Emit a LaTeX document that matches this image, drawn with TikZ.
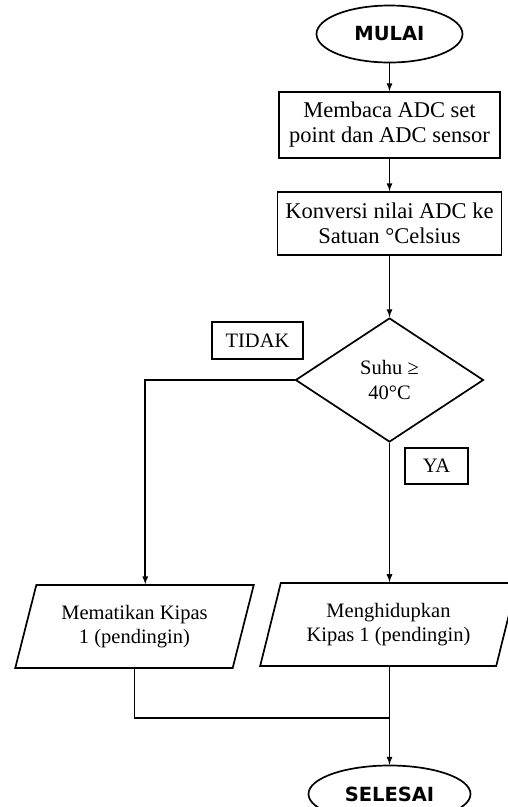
\documentclass[tikz,border=0pt]{standalone}
\usepackage{fontspec}
\setmainfont{Liberation Serif}
\newfontfamily\judulfont{DejaVu Sans}
\usetikzlibrary{shapes.geometric}

\begin{document}
\begin{tikzpicture}[x=1pt,y=-1pt,line width=1.7pt,>=latex,
	every node/.style={font=\fontsize{20.5}{24.5}\selectfont},
	terminal/.style={draw,ellipse,minimum width=146pt,minimum height=57pt,inner sep=0pt,font=\judulfont\bfseries\fontsize{19.5}{22}\selectfont},
	proses/.style={draw,rectangle,align=center,inner sep=0pt,font=\fontsize{22.5}{25}\selectfont},
	keputusan/.style={draw,diamond,align=center,inner sep=0pt,minimum width=188pt,minimum height=124pt},
	keluaran/.style={draw,trapezium,trapezium left angle=70,trapezium right angle=110,trapezium stretches=true,align=center,inner sep=0pt,minimum height=83pt},
	ket/.style={draw,rectangle,inner sep=0pt}]
			\useasboundingbox (0,0) rectangle (508,807);

			\node	(mulai) at (389.5,34) [terminal] {MULAI};
			\node	(baca) at (389.5,125) [proses,minimum width=221pt,minimum height=66pt] {Membaca ADC set\\point dan ADC sensor};
			\node	(konversi) at (389.5,223.5) [proses,minimum width=224pt,minimum height=63pt] {Konversi nilai ADC ke\\Satuan °Celsius};
			\node	(suhu) at (389.5,380) [keputusan] {Suhu ≥\\40°C};
			\node	(tidak) at (257.5,340.5) [ket,minimum width=91pt,minimum height=37pt] {TIDAK};
			\node	(ya) at (436.5,466) [ket,minimum width=63pt,minimum height=36pt] {YA};
			\node	(mati) at (134.5,626.5) [keluaran,minimum width=239pt] {Mematikan Kipas\\1 (pendingin)};
			\node	(hidup) at (388.5,624.5) [keluaran,minimum width=257pt] {Menghidupkan\\Kipas 1 (pendingin)};
			\node	(selesai) at (389.5,794) [terminal,minimum width=162pt] {SELESAI};
			\coordinate (gabung) at (389.5,718);

			\draw
			(mulai) edge[->] (baca)
			(baca) edge[->] (konversi)
			(konversi) edge[->] (suhu)
			;
			\draw[->] (suhu.west) -| (mati.top side);
			\draw[->] (suhu.south) -- (suhu.south |- hidup.north);
			\draw (mati.south) |- (gabung);
			\draw[->] (hidup.south -| selesai.north) -- (selesai.north);
		\end{tikzpicture}
\end{document}
